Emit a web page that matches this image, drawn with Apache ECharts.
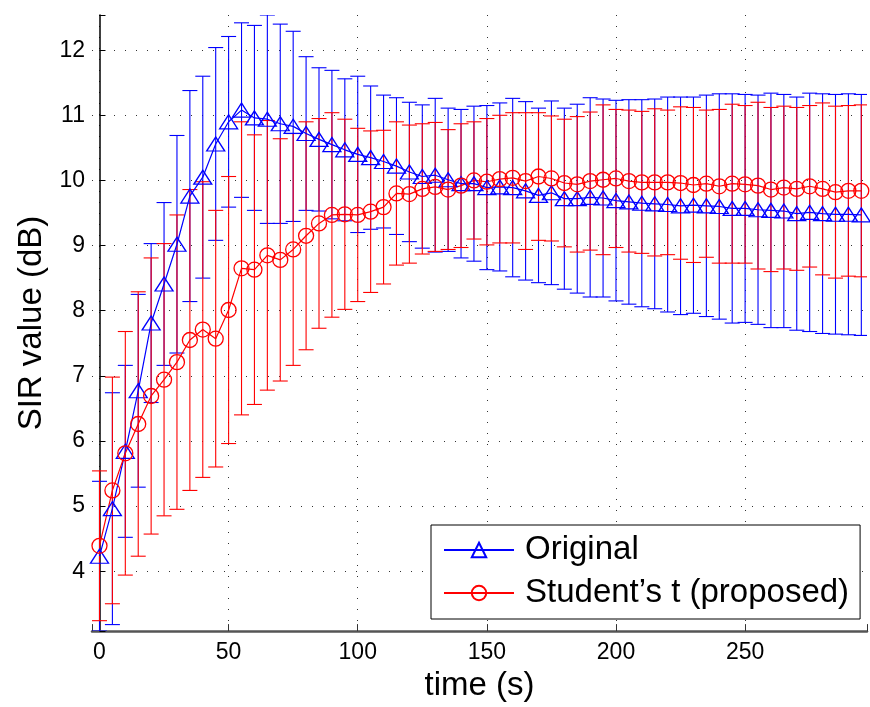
<!DOCTYPE html>
<html><head><meta charset="utf-8">
<script src="https://cdn.jsdelivr.net/npm/echarts@6/dist/echarts.min.js"></script>
<style>html,body{margin:0;padding:0;background:#fff}#c{width:870px;height:707px}</style>
</head><body><div id="c"></div>
<script>
// time (s)
const timeSec = [0,5,10,15,20,25,30,35,40,45,50,55,60,65,70,75,80,85,90,95,100,105,110,115,120,125,130,135,140,145,150,155,160,165,170,175,180,185,190,195,200,205,210,215,220,225,230,235,240,245,250,255,260,265,270,275,280,285,290,295];
// "Original" mean SIR (dB) and error half-width
const origMean = [4.23,4.96,5.84,6.77,7.81,8.41,9.02,9.76,10.05,10.56,10.90,11.08,10.96,10.94,10.87,10.83,10.72,10.63,10.55,10.47,10.40,10.35,10.29,10.22,10.13,10.06,10.08,10.01,9.95,9.95,9.89,9.90,9.89,9.84,9.77,9.81,9.72,9.72,9.74,9.73,9.69,9.67,9.65,9.64,9.63,9.61,9.62,9.61,9.60,9.57,9.57,9.55,9.54,9.53,9.49,9.51,9.49,9.48,9.48,9.47];
const origErr = [1.15,1.78,1.32,1.48,1.22,1.25,1.67,1.62,1.55,1.48,1.31,1.34,1.42,1.60,1.53,1.46,1.18,1.10,1.14,1.09,1.20,1.10,1.02,1.05,1.07,1.10,1.18,1.10,1.14,1.19,1.26,1.29,1.37,1.37,1.34,1.41,1.39,1.45,1.53,1.52,1.54,1.57,1.59,1.61,1.65,1.67,1.66,1.70,1.73,1.76,1.75,1.76,1.80,1.79,1.79,1.83,1.84,1.84,1.85,1.85];
// "Student's t (proposed)" mean SIR (dB) and error half-width
const stuMean = [4.39,5.24,5.81,6.26,6.69,6.94,7.21,7.55,7.71,7.57,8.01,8.65,8.63,8.85,8.78,8.94,9.15,9.34,9.47,9.48,9.47,9.52,9.59,9.80,9.79,9.87,9.90,9.86,9.92,10.00,9.98,10.02,10.04,9.99,10.06,10.03,9.96,9.94,9.99,10.01,10.03,9.99,9.97,9.97,9.97,9.96,9.93,9.95,9.91,9.95,9.94,9.92,9.86,9.89,9.87,9.91,9.87,9.82,9.84,9.84];
const stuErr = [1.15,1.74,1.87,2.03,2.12,2.09,2.26,2.31,2.27,1.97,2.05,2.25,2.07,2.07,1.86,1.78,1.75,1.61,1.57,1.46,1.33,1.24,1.18,1.10,1.06,1.00,0.99,0.92,0.95,0.90,0.97,0.98,1.00,1.05,0.98,0.96,0.98,1.04,1.06,1.15,1.06,1.09,1.09,1.13,1.11,1.17,1.19,1.13,1.18,1.22,1.21,1.28,1.26,1.25,1.25,1.24,1.32,1.32,1.31,1.32];
const xTicks = [0,50,100,150,200,250];
const yTicks = [4,5,6,7,8,9,10,11,12];
const seriesNames = ['Original', 'Student\u2019s t (proposed)'];

const FONT = '"Liberation Sans", Arial, Helvetica, sans-serif';
const BLUE = '#0000ff', RED = '#ff0000';

function errData(mean, err) {
  return timeSec.map((t, i) => [t, mean[i] - err[i], mean[i] + err[i]]);
}
function lineData(mean) {
  return timeSec.map((t, i) => [t, mean[i]]);
}
function errRender(color) {
  return function (params, api) {
    const x = api.value(0), lo = api.value(1), hi = api.value(2);
    const pLo = api.coord([x, lo]), pHi = api.coord([x, hi]);
    const hw = 7.5;
    const style = { stroke: color, lineWidth: 1.1, fill: null };
    return {
      type: 'group', children: [
        { type: 'line', shape: { x1: pLo[0], y1: pLo[1], x2: pHi[0], y2: pHi[1] }, style: style },
        { type: 'line', shape: { x1: pLo[0] - hw, y1: pLo[1], x2: pLo[0] + hw, y2: pLo[1] }, style: style },
        { type: 'line', shape: { x1: pHi[0] - hw, y1: pHi[1], x2: pHi[0] + hw, y2: pHi[1] }, style: style }
      ]
    };
  };
}

const chart = echarts.init(document.getElementById('c'), null, { renderer: 'canvas' });
chart.setOption({
  animation: false,
  backgroundColor: '#fff',
  grid: { left: 92, right: 0, top: 15, bottom: 75, containLabel: false },
  xAxis: {
    type: 'value', min: -2.9, max: 297.2, minInterval: 50, maxInterval: 50, splitNumber: 6,
    name: 'time (s)', nameLocation: 'middle', nameGap: 35,
    nameTextStyle: { fontSize: 33, color: '#000', fontFamily: FONT },
    axisLine: { show: true, lineStyle: { color: '#555', width: 2.5 } },
    axisTick: { show: true, inside: true, length: 7, lineStyle: { color: '#333', width: 1 } },
    axisLabel: { fontSize: 23, color: '#000', fontFamily: FONT, margin: 10,
      formatter: v => (xTicks.indexOf(Math.round(v * 1000) / 1000) >= 0 ? String(Math.round(v)) : '') },
    splitLine: { show: true, showMinLine: false, showMaxLine: false,
      lineStyle: { color: '#333', width: 1, type: [1, 10] } }
  },
  yAxis: {
    type: 'value', min: 3.08, max: 12.54, minInterval: 1, maxInterval: 1, splitNumber: 9,
    name: 'SIR value (dB)', nameLocation: 'middle', nameGap: 44,
    nameTextStyle: { fontSize: 33, color: '#000', fontFamily: FONT },
    axisLine: { show: true, lineStyle: { color: '#000', width: 1.5 } },
    axisTick: { show: true, inside: true, length: 6, lineStyle: { color: '#000', width: 1 } },
    axisLabel: { fontSize: 23, color: '#000', fontFamily: FONT, margin: 7,
      formatter: v => (yTicks.indexOf(Math.round(v * 1000) / 1000) >= 0 ? String(Math.round(v)) : '') },
    splitLine: { show: true, showMinLine: false, showMaxLine: false,
      lineStyle: { color: '#333', width: 1, type: [1, 10] } }
  },
  legend: {
    data: seriesNames,
    orient: 'vertical', left: 431, top: 525,
    itemWidth: 70, itemHeight: 18, itemGap: 3,
    padding: [5, 11, 6, 12],
    backgroundColor: '#fff', borderColor: '#000', borderWidth: 1, borderRadius: 0,
    selectedMode: false,
    textStyle: { fontSize: 33, color: '#000', fontFamily: FONT, lineHeight: 40, padding: [0, 0, 0, 6] }
  },
  series: [
    { type: 'custom', name: 'origErr', renderItem: errRender(BLUE), data: errData(origMean, origErr),
      encode: { x: 0, y: [1, 2] }, clip: true, silent: true },
    { type: 'line', name: seriesNames[0], data: lineData(origMean),
      symbol: 'triangle', symbolSize: [18, 14], showAllSymbol: true,
      lineStyle: { color: BLUE, width: 1.2 },
      itemStyle: { color: 'rgba(0,0,0,0)', borderColor: BLUE, borderWidth: 1.3 } },
    { type: 'custom', name: 'stuErr', renderItem: errRender(RED), data: errData(stuMean, stuErr),
      encode: { x: 0, y: [1, 2] }, clip: true, silent: true },
    { type: 'line', name: seriesNames[1], data: lineData(stuMean),
      symbol: 'circle', symbolSize: 15, showAllSymbol: true,
      lineStyle: { color: RED, width: 1.2 },
      itemStyle: { color: 'rgba(0,0,0,0)', borderColor: RED, borderWidth: 1.3 } }
  ]
});
</script>
</body></html>
